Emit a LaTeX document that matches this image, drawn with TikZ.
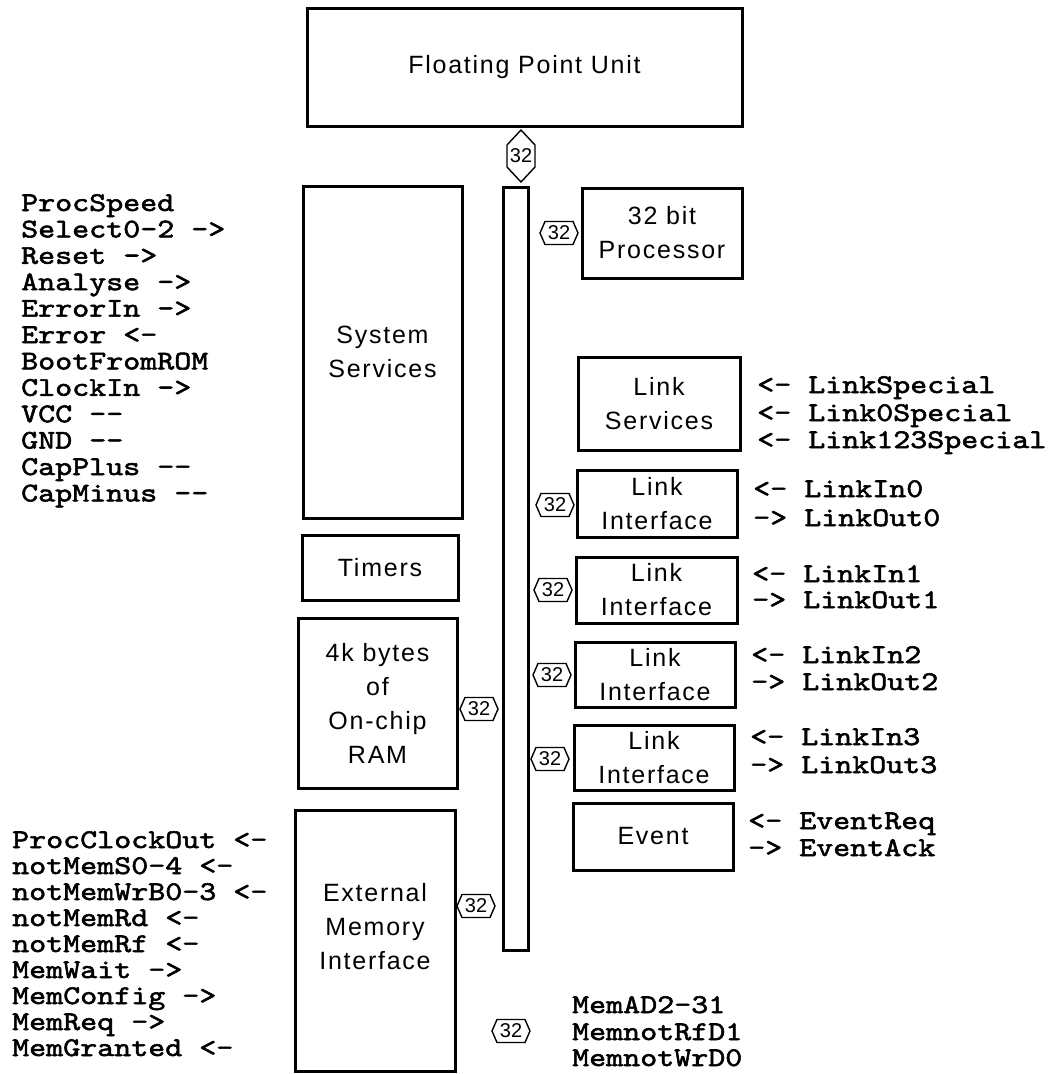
\documentclass[tikz,border=0pt]{standalone}
\usepackage{fontspec}
\newfontfamily\boxfont[LetterSpace=7]{Liberation Sans}
\newfontfamily\numfont{Liberation Sans}
\newfontfamily\sigfont{lmmono10-regular.otf}[FakeBold=2,FakeStretch=1.2]
\newcommand\dd{-{}-}
\tikzset{
  box/.style={draw, line width=3pt, inner sep=0pt, align=center,
    font=\boxfont\fontsize{25}{34}\selectfont},
  sig/.style={inner sep=0pt, anchor=base west,
    font=\sigfont\fontsize{27}{27}\selectfont},
  btxt/.style={inner sep=0pt, font=\numfont\fontsize{20}{20}\selectfont},
  bline/.style={line width=1.4pt, line join=miter},
  hbadge/.pic={\draw[bline] (-19,0) -- (-14,-11.5) -- (14,-11.5) -- (19,0) -- (14,11.5) -- (-14,11.5) -- cycle;
    \node[btxt] (-t) {32};},
  vbadge/.pic={\draw[bline] (0,-26) -- (14,-11) -- (14,11) -- (0,26) -- (-14,11) -- (-14,-11) -- cycle;
    \node[btxt] (-t) {32};},
}
\begin{document}
\begin{tikzpicture}[x=1pt,y=-1pt]
\useasboundingbox (0,0) rectangle (1050,1074);
% top
\node[box, minimum width=435pt, minimum height=118pt] (fpu) at (524.5,67) {Floating Point Unit};
\pic (bfpu) at (521,156) {vbadge};
% bus
\node[draw, line width=3pt, minimum width=25pt, minimum height=763pt, inner sep=0pt] (bus) at (516,568.5) {};
% left column
\node[box, minimum width=159pt, minimum height=332pt] (sys) at (382.5,352) {System\\Services};
\node[box, minimum width=156pt, minimum height=65pt] (tim) at (380,567.5) {Timers};
\node[box, minimum width=159pt, minimum height=170pt] (ram) at (377.5,703) {4k bytes\\of\\On-chip\\RAM};
\node[box, minimum width=160pt, minimum height=261pt] (emi) at (375,940.5) {};
\node[box, draw=none] (emit) at (375,927) {External\\Memory\\Interface};
\pic (bram) at (479,709) {hbadge};
\pic (bemi) at (476,906) {hbadge};
% right column
\node[box, minimum width=160pt, minimum height=90pt] (proc) at (662,233) {32 bit\\Processor};
\pic (bproc) at (559,233) {hbadge};
\node[box, minimum width=162pt, minimum height=93pt] (lsvc) at (659,403.5) {Link\\Services};
\node[box, minimum width=160pt, minimum height=67pt] (li0) at (657,503.5) {Link\\Interface};
\node[box, minimum width=161pt, minimum height=66pt] (li1) at (656.5,590) {Link\\Interface};
\node[box, minimum width=160pt, minimum height=65pt] (li2) at (655,674.5) {Link\\Interface};
\node[box, minimum width=160pt, minimum height=65pt] (li3) at (654,757.5) {Link\\Interface};
\node[box, minimum width=160pt, minimum height=67pt] (ev) at (653,836.5) {Event};
\pic (bl0) at (555,505) {hbadge};
\pic (bl1) at (553,590) {hbadge};
\pic (bl2) at (552,675) {hbadge};
\pic (bl3) at (550,759) {hbadge};
\pic (bbot) at (511,1031) {hbadge};
% left signal labels
\foreach \t [count=\i from 0] in {ProcSpeed, Select0-2 ->, Reset ->, Analyse ->, ErrorIn ->, Error <-, BootFromROM, ClockIn ->, VCC \dd, GND \dd, CapPlus \dd, CapMinus \dd}
  {\node[sig] (ls\i) at (21,{211+26.4*\i}) {\t};}
\foreach \t [count=\i from 0] in {ProcClockOut <-, notMemS0-4 <-, notMemWrB0-3 <-, notMemRd <-, notMemRf <-, MemWait ->, MemConfig ->, MemReq ->, MemGranted <-}
  {\node[sig] (lm\i) at (12,{848+26*\i}) {\t};}
% right signal labels
\node[sig] (rs0) at (757,393) {<- LinkSpecial};
\node[sig] (rs1) at (757,421) {<- Link0Special};
\node[sig] (rs2) at (757,448) {<- Link123Special};
\node[sig] (ri0) at (753,497) {<- LinkIn0};
\node[sig] (ro0) at (753,526) {-> LinkOut0};
\node[sig] (ri1) at (752,582) {<- LinkIn1};
\node[sig] (ro1) at (752,608) {-> LinkOut1};
\node[sig] (ri2) at (751,663) {<- LinkIn2};
\node[sig] (ro2) at (751,690) {-> LinkOut2};
\node[sig] (ri3) at (750,745) {<- LinkIn3};
\node[sig] (ro3) at (750,773) {-> LinkOut3};
\node[sig] (er) at (748,829) {<- EventReq};
\node[sig] (ea) at (748,856) {-> EventAck};
% bottom memory bus labels
\node[sig] (mb0) at (572,1013) {MemAD2-31};
\node[sig] (mb1) at (572,1040) {MemnotRfD1};
\node[sig] (mb2) at (572,1066) {MemnotWrD0};
\end{tikzpicture}
\end{document}
